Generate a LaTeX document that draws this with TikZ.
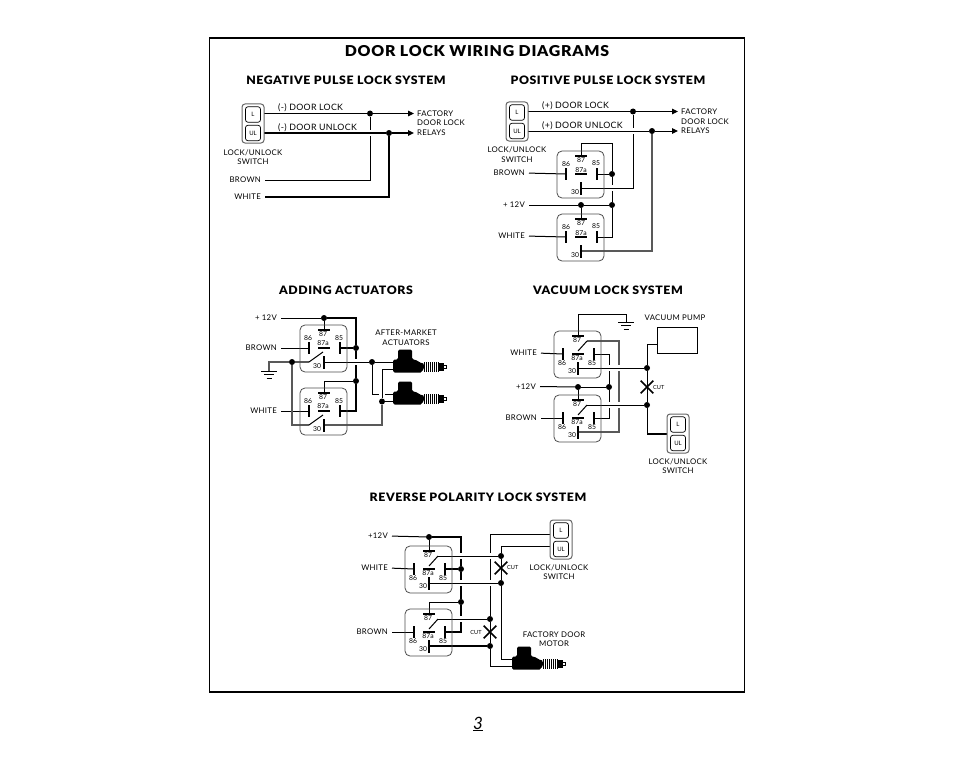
\documentclass[tikz,border=0pt]{standalone}
\usepackage{fontspec}
\setmainfont{Lato}
\newfontfamily\headfont[LetterSpace=5,FakeStretch=1.06]{Lato Black}
\newfontfamily\wirefont[LetterSpace=3.5]{Lato}
\usetikzlibrary{arrows.meta,shapes.misc}
\pgfdeclarelayer{front}
\pgfsetlayers{main,front}
\newcommand{\relaycore}{
	\begin{pgfonlayer}{front}
		\draw[relaybox] (0,0) rectangle (47,47);
		\draw[termbar] (18,5) -- (30,5);
		\draw[termbar] (18,23) -- (30,23);
		\draw[termbar] (9,17) -- (9,29);
		\draw[termbar] (40,17) -- (40,29);
		\draw[termbar] (24,31) -- (24,44);
	\end{pgfonlayer}
	\coordinate (-87) at (24,5);
	\coordinate (-86) at (9,23);
	\coordinate (-85) at (40,23);
	\coordinate (-30) at (24,37);
}
\tikzset
{
	wire/.style = {line width=1pt},
	thickwire/.style = {line width=1.9pt},
	graywire/.style = {line width=1.6pt, draw=black!65},
	halo/.style = {preaction={draw=white, line width=6pt}},
	tiparrow/.style = {-{Triangle[length=6pt,width=5.5pt]}},
	relaybox/.style = {draw=black!70, line width=0.8pt, rounded corners=5pt},
	termbar/.style = {line width=1.7pt},
	jdot/.style = {circle, fill=black, inner sep=0pt, minimum size=6pt},
	cutmark/.style = {cross out, draw=black, line width=1.7pt, inner sep=0pt, minimum size=11pt},
	pinlabel/.style = {font=\fontsize{6.8}{7}\selectfont, inner sep=0pt},
	wlabel/.style = {font=\wirefont\fontsize{7.8}{9.6}\selectfont, inner sep=0pt, align=center},
	doorlabel/.style = {font=\wirefont\fontsize{8.8}{10}\selectfont, inner sep=0pt, anchor=west},
	sectionhead/.style = {font=\headfont\fontsize{11.6}{13}\selectfont, inner sep=0pt},
	pumpbox/.style = {draw=black, line width=0.9pt, minimum width=40pt, minimum height=26pt, inner sep=0pt},
	plainrelay/.pic = {
		\relaycore
		\begin{pgfonlayer}{front}
			\node[pinlabel] (-n86) at (9,13) {86};
			\node[pinlabel] (-n87) at (24,9) {87};
			\node[pinlabel] (-n87a) at (24,19) {87a};
			\node[pinlabel] (-n85) at (39,12) {85};
			\node[pinlabel] (-n30) at (18,41) {30};
		\end{pgfonlayer}
	},
	upperrelay/.pic = {
		\relaycore
		\coordinate (-arml) at (9,37);
		\begin{pgfonlayer}{front}
			\draw[wire] (-arml) -- (23,27);
			\node[pinlabel] (-n86) at (8,13) {86};
			\node[pinlabel] (-n87) at (23,9.5) {87};
			\node[pinlabel] (-n87a) at (23,18) {87a};
			\node[pinlabel] (-n85) at (39,13) {85};
			\node[pinlabel] (-n30) at (17,41) {30};
		\end{pgfonlayer}
	},
	lowerrelay/.pic = {
		\relaycore
		\coordinate (-arm) at (33,10);
		\begin{pgfonlayer}{front}
			\draw[wire] (24,20) -- (-arm);
			\node[pinlabel] (-n87) at (23,9) {87};
			\node[pinlabel] (-n87a) at (23,27) {87a};
			\node[pinlabel] (-n86) at (8,32) {86};
			\node[pinlabel] (-n85) at (38,32) {85};
			\node[pinlabel] (-n30) at (18,40) {30};
		\end{pgfonlayer}
	},
	lockswitch/.pic = {
		\coordinate (-L) at (22,9.5);
		\coordinate (-UL) at (22,29);
		\coordinate (-w) at (0,0);
		\begin{pgfonlayer}{front}
			\draw[draw=black!60, line width=1pt, rounded corners=3pt] (0,0) rectangle (22,39);
			\node[draw=black, line width=0.7pt, rounded corners=2.5pt, minimum width=15pt, minimum height=15.5pt, inner sep=0pt, font=\fontsize{6}{7}\selectfont] (-bl) at (11,10.5) {L};
			\node[draw=black, line width=0.7pt, rounded corners=2.5pt, minimum width=15pt, minimum height=15.5pt, inner sep=0pt, font=\fontsize{6}{7}\selectfont] (-bul) at (11,29) {UL};
		\end{pgfonlayer}
	},
	actuator/.pic = {
		\coordinate (-in1) at (0,12.5);
		\coordinate (-in2) at (0,20);
		\begin{pgfonlayer}{front}
			\fill[rounded corners=1.5pt] (0,23) -- (0,10) -- (5,10) -- (5,0) -- (19,0) -- (19,10) -- (22,10) -- (29,14) -- (31,14) -- (31,20) -- (29,20) -- (29,23) -- cycle;
			\draw[line width=10pt, dash pattern=on 1.2pt off 0.8pt] (31,17) -- (46,17);
			\fill (46,13) rectangle (50.5,21);
			\draw[line width=0.7pt] (50.5,15.5) rectangle (53,18.5);
		\end{pgfonlayer}
	},
	groundsym/.pic = {
		\draw[wire] (-8,0) -- (8,0);
		\draw[wire] (-5,3.5) -- (5,3.5);
		\draw[wire] (-2.5,7) -- (2.5,7);
	}
}

\begin{document}
\begin{tikzpicture}
	[x=1pt, y=-1pt]
	\useasboundingbox (0,0) rectangle (954,776);
	\node[draw=black, line width=1.2pt, minimum width=535pt, minimum height=654pt, inner sep=0pt] (npage) at (477,365) {};
	\node[inner sep=0pt, font=\headfont\fontsize{15}{17}\selectfont] (ntitle) at (477,51.5) {DOOR LOCK WIRING DIAGRAMS};
	\node[inner sep=0pt, font=\itshape\fontsize{17}{20}\selectfont] (npageno) at (478,724) {\underline{3}};

	% negative pulse
	\begin{pgfonlayer}{front}
		\node[sectionhead] (nhead1) at (346,80.5) {NEGATIVE PULSE LOCK SYSTEM};
		\node[jdot] (nlock1) at (370,113.5) {};
		\node[jdot] (nunlock1) at (389,133) {};
		\node[wlabel, anchor=west] (nfac1) at (417,113.5) {FACTORY};
		\node[wlabel, anchor=west] (ndoor1) at (417,123) {DOOR LOCK};
		\node[wlabel, anchor=west] (nrel1) at (417,133) {RELAYS};
		\node[doorlabel] (nminl) at (278,107.5) {(-) DOOR LOCK};
		\node[doorlabel] (nminu) at (278,127.5) {(-) DOOR UNLOCK};
		\node[wlabel] (nswt1) at (253,157) {LOCK/UNLOCK\\SWITCH};
		\node[wlabel, anchor=east] (nbrown1) at (261,180) {BROWN};
		\node[wlabel, anchor=east] (nwhite1) at (261,197) {WHITE};
	\end{pgfonlayer}
	\pic (sw1) at (242,104) {lockswitch};
	\draw[wire, shorten <=4pt] (nbrown1.east) -| (nlock1);
	\draw[thickwire, shorten <=4pt] (nwhite1.east) -| (nunlock1);
	\draw[thickwire, halo] (sw1-UL) -- (nunlock1);
	\draw[thickwire, tiparrow, shorten >=3pt] (nunlock1) -- (nrel1.west);
	\draw[wire] (sw1-L) -- (nlock1);
	\draw[wire, tiparrow, shorten >=3pt] (nlock1) -- (nfac1.west);

	% positive pulse
	\begin{pgfonlayer}{front}
		\node[sectionhead] (nhead2) at (608,80.5) {POSITIVE PULSE LOCK SYSTEM};
		\node[jdot] (nlock2) at (633,111.5) {};
		\node[jdot] (nunlock2) at (652,131) {};
		\node[jdot] (n85a) at (612,174) {};
		\node[jdot] (n12a) at (581,205) {};
		\node[jdot] (n12b) at (612,205) {};
		\node[wlabel, anchor=west] (nfac2) at (681,111.5) {FACTORY};
		\node[wlabel, anchor=west] (ndoor2) at (681,121.5) {DOOR LOCK};
		\node[wlabel, anchor=west] (nrel2) at (681,131) {RELAYS};
		\node[doorlabel] (nplul) at (542,105.5) {(+) DOOR LOCK};
		\node[doorlabel] (nplun) at (542,126) {(+) DOOR UNLOCK};
		\node[wlabel] (nswt2) at (517,154.5) {LOCK/UNLOCK\\SWITCH};
		\node[wlabel, anchor=east] (nbrown2) at (525,173) {BROWN};
		\node[wlabel, anchor=east] (n12t2) at (525,205) {+ 12V};
		\node[wlabel, anchor=east] (nwhite2) at (525,236) {WHITE};
	\end{pgfonlayer}
	\pic (sw2) at (506,102) {lockswitch};
	\pic (r1) at (557,151) {plainrelay};
	\pic (r2) at (557,214) {plainrelay};
	\coordinate (c87a) at (612,143);
	\draw[wire] (r1-87) |- (c87a) -- (n85a);
	\draw[wire] (n85a) -- (n12b);
	\draw[wire, halo] (r1-30) -| (nlock2);
	\draw[wire, halo] (sw2-UL) -- (nunlock2);
	\draw[wire, tiparrow, shorten >=3pt] (nunlock2) -- (nrel2.west);
	\draw[wire] (sw2-L) -- (nlock2);
	\draw[wire, tiparrow, shorten >=3pt] (nlock2) -- (nfac2.west);
	\draw[wire] (r1-85) -- (n85a);
	\draw[wire, shorten <=4pt] (nbrown2.east) -- (r1-86);
	\draw[wire, shorten <=4pt] (n12t2.east) -- (n12a);
	\draw[wire] (n12a) -- (n12b);
	\draw[wire] (n12a) -- (r2-87);
	\draw[wire] (n12b) |- (r2-85);
	\draw[wire, shorten <=4pt] (nwhite2.east) -- (r2-86);
	\draw[graywire] (r2-30) -| (nunlock2);

	% adding actuators
	\begin{pgfonlayer}{front}
		\node[sectionhead] (nhead3) at (346,290.5) {ADDING ACTUATORS};
		\node[jdot] (n12c) at (324,318) {};
		\node[jdot] (n85c) at (356,348) {};
		\node[jdot] (n85d) at (356,381) {};
		\node[jdot] (n30c) at (372,362) {};
		\node[jdot] (n30d) at (382,401.5) {};
		\node[jdot] (ngnd) at (292,362) {};
		\node[wlabel, anchor=east] (n12t3) at (277,318) {+ 12V};
		\node[wlabel, anchor=east] (nbrown3) at (277,348) {BROWN};
		\node[wlabel, anchor=east] (nwhite3) at (277,411) {WHITE};
		\node[wlabel] (naft) at (406,337.5) {AFTER-MARKET\\ACTUATORS};
	\end{pgfonlayer}
	\pic (r3) at (300,325) {upperrelay};
	\pic (r4) at (300,388) {upperrelay};
	\pic (act1) at (393,349.5) {actuator};
	\pic (act2) at (393,381.5) {actuator};
	\coordinate (cgnd1) at (269,371);
	\pic (gnd1) at (269,371) {groundsym};
	\draw[wire] (r3-87) -- (n12c);
	\draw[wire, shorten <=4pt] (n12t3.east) -- (n12c);
	\draw[thickwire] (n12c) -| (n85c);
	\draw[thickwire] (r3-85) -- (n85c);
	\draw[thickwire] (n85c) -- (n85d);
	\draw[thickwire] (n85d) |- (r4-85);
	\draw[wire] (r4-87) |- (n85d);
	\draw[wire, shorten <=4pt] (nbrown3.east) -- (r3-86);
	\draw[wire, shorten <=4pt] (nwhite3.east) -- (r4-86);
	\draw[graywire] (r3-arml) -- (ngnd);
	\draw[graywire] (ngnd) -| (cgnd1);
	\draw[graywire] (ngnd) |- (r4-arml);
	\draw[wire, halo] (r3-30) -- (n30c);
	\draw[wire] (n30c) -- (n30c -| act1-in1);
	\draw[wire] (n30c) |- (act2-in1);
	\draw[wire, halo] (n30d) |- (act1-in2);
	\draw[thickwire] (n30d) -- (act2-in2);
	\draw[graywire] (n30d) |- (r4-30);

	% vacuum
	\begin{pgfonlayer}{front}
		\node[sectionhead] (nhead4) at (608,290.5) {VACUUM LOCK SYSTEM};
		\node[jdot] (n12e) at (578,387) {};
		\node[jdot] (n12f) at (609,387) {};
		\node[jdot] (ntop1) at (647,368) {};
		\node[jdot] (nbot1) at (647,405) {};
		\node[wlabel, anchor=east] (nwhite4) at (537,353) {WHITE};
		\node[wlabel, anchor=east] (n12t4) at (536,386.5) {+12V};
		\node[wlabel, anchor=east] (nbrown4) at (537,418) {BROWN};
		\node[wlabel] (nvac) at (675,318) {VACUUM PUMP};
		\node[wlabel] (nswt3) at (678,466) {LOCK/UNLOCK\\SWITCH};
		\node[pumpbox] (npump) at (677,340) {};
		\node[cutmark] (ncut1) at (647,387) {};
		\node[inner sep=0pt, font=\fontsize{5.6}{7}\selectfont, anchor=west] (ncutt1) at (653,387) {CUT};
	\end{pgfonlayer}
	\pic (r5) at (554,331) {lowerrelay};
	\pic (r6) at (554,395) {lowerrelay};
	\pic (sw3) at (667,414) {lockswitch};
	\pic (gnd2) at (626,322) {groundsym};
	\coordinate (cgnd2) at (626,314);
	\coordinate (cgnd3) at (626,322);
	\coordinate (carm) at (619,341);
	\coordinate (cpump) at (657,344);
	\coordinate (csw) at (647,434);
	\draw[wire] (r5-87) |- (cgnd2) -- (cgnd3);
	\draw[wire, shorten <=4pt] (nwhite4.east) -- (r5-86);
	\draw[wire] (r5-85) -| (n12f);
	\draw[wire] (r6-85) -| (n12f);
	\draw[graywire] (r5-arm) -- (carm) |- (r6-30);
	\draw[wire, halo] (r5-30) -- (ntop1);
	\draw[wire, halo] (r6-arm) -- (nbot1);
	\draw[wire, shorten <=4pt] (n12t4.east) -- (n12e);
	\draw[wire] (n12e) -- (n12f);
	\draw[wire] (n12e) -- (r6-87);
	\draw[wire, shorten <=4pt] (nbrown4.east) -- (r6-86);
	\draw[wire] (ntop1) |- (cpump);
	\draw[wire] (ntop1) -- (nbot1);
	\draw[wire] (nbot1) -- (csw);
	\draw[thickwire] (csw) -- (csw -| sw3-w);

	% reverse polarity
	\begin{pgfonlayer}{front}
		\node[sectionhead] (nhead5) at (478,497.5) {REVERSE POLARITY LOCK SYSTEM};
		\node[jdot] (n12g) at (429,537) {};
		\node[jdot] (n85g) at (461,569) {};
		\node[jdot] (n85h) at (461,602) {};
		\node[jdot] (ntop2) at (501,556) {};
		\node[jdot] (nbot2) at (501,583) {};
		\node[jdot] (ntop3) at (490,619) {};
		\node[jdot] (nbot3) at (490,646) {};
		\node[wlabel, anchor=east] (n12t5) at (388,536) {+12V};
		\node[wlabel, anchor=east] (nwhite5) at (388,568) {WHITE};
		\node[wlabel, anchor=east] (nbrown5) at (388,632) {BROWN};
		\node[wlabel] (nswt4) at (559,572) {LOCK/UNLOCK\\SWITCH};
		\node[wlabel] (nmotor) at (554,639) {FACTORY DOOR\\MOTOR};
		\node[cutmark] (ncut2) at (501,568) {};
		\node[cutmark] (ncut3) at (490,632) {};
		\node[inner sep=0pt, font=\fontsize{5.6}{7}\selectfont, anchor=west] (ncutt2) at (507,567.5) {CUT};
		\node[inner sep=0pt, font=\fontsize{5.6}{7}\selectfont] (ncutt3) at (476,632) {CUT};
	\end{pgfonlayer}
	\pic (r7) at (405,546) {lowerrelay};
	\pic (r8) at (405,609) {lowerrelay};
	\pic (sw4) at (550,520) {lockswitch};
	\pic (act3) at (512,646.5) {actuator};
	\coordinate (cl) at (490,534);
	\coordinate (cu) at (501,546);
	\draw[wire] (r7-87) -- (n12g);
	\draw[wire, shorten <=4pt] (n12t5.east) -- (n12g);
	\draw[thickwire] (n12g) -| (n85g);
	\draw[thickwire] (r7-85) -- (n85g);
	\draw[thickwire] (n85g) -- (n85h);
	\draw[thickwire] (n85h) |- (r8-85);
	\draw[wire] (r8-87) |- (n85h);
	\draw[wire, shorten <=4pt] (nwhite5.east) -- (r7-86);
	\draw[wire, shorten <=4pt] (nbrown5.east) -- (r8-86);
	\draw[wire] (cl -| sw4-w) -- (cl) -- (ntop3);
	\draw[wire] (cu -| sw4-w) -- (cu) -- (ntop2);
	\draw[wire] (ntop2) -- (nbot2);
	\draw[wire] (ntop3) -- (nbot3);
	\draw[wire] (nbot2) |- (act3-in1);
	\draw[wire] (nbot3) |- (act3-in2);
	\draw[wire, halo] (r7-arm) -- (ntop2);
	\draw[wire, halo] (r7-30) -- (nbot2);
	\draw[wire, halo] (r8-arm) -- (ntop3);
	\draw[thickwire] (r8-30) -- (nbot3);
\end{tikzpicture}
\end{document}
